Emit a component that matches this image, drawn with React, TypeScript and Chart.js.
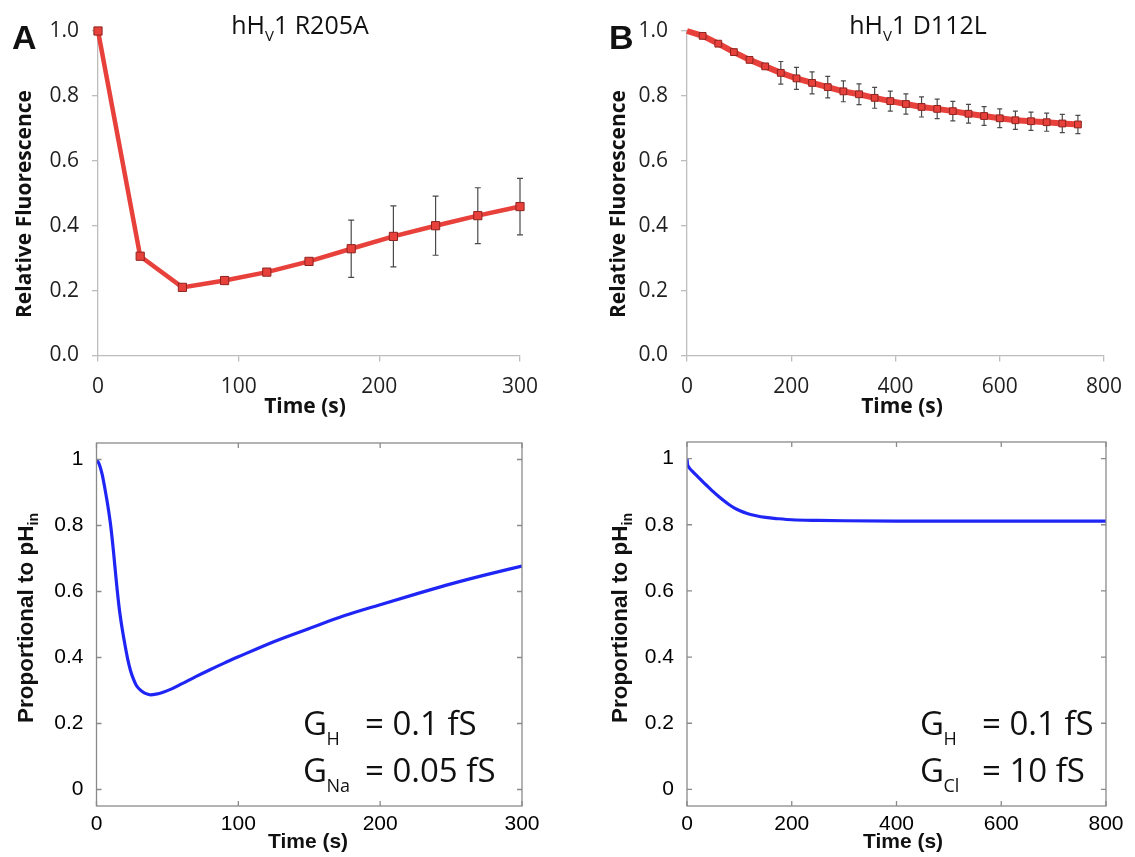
import React, { useEffect, useRef } from "react";
import { Chart, registerables } from "chart.js";
Chart.register(...registerables);

// ---------- Data ----------
// Panel A (top): hHV1 R205A measured relative fluorescence
const r205aTime = [0, 30, 60, 90, 120, 150, 180, 210, 240, 270, 300];
const r205aFluor = [1.0, 0.306, 0.21, 0.231, 0.257, 0.29, 0.329, 0.367, 0.4, 0.431, 0.459];
const r205aErr = [0, 0, 0, 0, 0, 0, 0.088, 0.094, 0.091, 0.086, 0.087];

// Panel B (top): hHV1 D112L measured relative fluorescence
const d112lTime = [0, 30, 60, 90, 120, 150, 180, 210, 240, 270, 300, 330, 360, 390, 420, 450, 480, 510, 540, 570, 600, 630, 660, 690, 720, 750];
const d112lFluor = [1.0, 0.985, 0.961, 0.935, 0.911, 0.891, 0.871, 0.854, 0.84, 0.827, 0.814, 0.805, 0.794, 0.784, 0.775, 0.766, 0.76, 0.753, 0.745, 0.738, 0.731, 0.725, 0.722, 0.719, 0.715, 0.712];
const d112lErr = [0, 0, 0, 0, 0, 0, 0.035, 0.034, 0.034, 0.033, 0.032, 0.032, 0.032, 0.031, 0.031, 0.031, 0.03, 0.03, 0.029, 0.029, 0.029, 0.028, 0.028, 0.028, 0.028, 0.028];

// Panel A (bottom): model, GH = 0.1 fS, GNa = 0.05 fS
const modelNaTime = [0, 2, 4, 6, 8, 10, 12, 14, 16, 18, 20, 22, 24, 26, 28, 31, 34, 38, 42, 47, 53, 60, 70, 80, 90, 100, 125, 150, 175, 200, 225, 250, 275, 300];
const modelNaPh = [1.0, 0.985, 0.955, 0.91, 0.86, 0.8, 0.72, 0.63, 0.55, 0.49, 0.44, 0.395, 0.36, 0.335, 0.316, 0.301, 0.292, 0.287, 0.289, 0.295, 0.305, 0.32, 0.342, 0.363, 0.383, 0.402, 0.448, 0.488, 0.527, 0.56, 0.592, 0.623, 0.651, 0.677];

// Panel B (bottom): model, GH = 0.1 fS, GCl = 10 fS
const modelClTime = [0, 1, 3, 10, 20, 30, 40, 50, 60, 70, 80, 90, 100, 115, 130, 150, 175, 200, 250, 300, 400, 500, 600, 700, 800];
const modelClPh = [1.0, 0.983, 0.975, 0.962, 0.946, 0.93, 0.915, 0.9, 0.886, 0.873, 0.861, 0.851, 0.843, 0.834, 0.828, 0.822, 0.818, 0.815, 0.813, 0.812, 0.811, 0.811, 0.811, 0.811, 0.811];

// Tick labels
const timeTicksA = [0, 100, 200, 300];
const timeTicksB = [0, 200, 400, 600, 800];
const fluorTicks = [0, 0.2, 0.4, 0.6, 0.8, 1.0];
const phTicks = [0, 0.2, 0.4, 0.6, 0.8, 1];

// ---------- Styling ----------
const FONT_TOP = "'Open Sans', 'Liberation Sans', sans-serif";
const FONT_MAT = "'Liberation Sans', Arial, sans-serif";
const AXIS_GRAY = "#bdbdbd";
const RED = "#e8413b";
const RED_EDGE = "#8e2420";
const BLUE = "#1f25f5";

type Run = { t: string; size: number; family: string; bold?: boolean; dy?: number };
type TextItem = { runs: Run[]; x: number; y: number; align?: "left" | "center"; rotate?: boolean; color?: string };

const fontStr = (r: Run) => `${r.bold ? "bold " : ""}${r.size}px ${r.family}`;

function textPlugin(items: TextItem[], ox: number, oy: number) {
  return {
    id: "panelText",
    afterDraw(chart: any) {
      const ctx = chart.ctx as CanvasRenderingContext2D;
      for (const item of items) {
        ctx.save();
        ctx.fillStyle = item.color || "#111";
        ctx.textBaseline = "alphabetic";
        ctx.textAlign = "left";
        ctx.translate(item.x - ox, item.y - oy);
        if (item.rotate) ctx.rotate(-Math.PI / 2);
        let w = 0;
        for (const r of item.runs) {
          ctx.font = fontStr(r);
          w += ctx.measureText(r.t).width;
        }
        let cx = item.align === "center" ? -w / 2 : 0;
        for (const r of item.runs) {
          ctx.font = fontStr(r);
          ctx.fillText(r.t, cx, r.dy || 0);
          cx += ctx.measureText(r.t).width;
        }
        ctx.restore();
      }
    },
  };
}

function errorBarPlugin(times: number[], values: number[], errs: number[], cap: number) {
  return {
    id: "errorBars",
    beforeDatasetsDraw(chart: any) {
      const ctx = chart.ctx as CanvasRenderingContext2D;
      const x = chart.scales.x;
      const y = chart.scales.y;
      ctx.save();
      ctx.strokeStyle = "#4a4a4a";
      ctx.lineWidth = 1.2;
      ctx.beginPath();
      times.forEach((t, i) => {
        const e = errs[i];
        if (!e) return;
        const px = x.getPixelForValue(t);
        const top = y.getPixelForValue(values[i] + e);
        const bot = y.getPixelForValue(values[i] - e);
        ctx.moveTo(px, top);
        ctx.lineTo(px, bot);
        ctx.moveTo(px - cap, top);
        ctx.lineTo(px + cap, top);
        ctx.moveTo(px - cap, bot);
        ctx.lineTo(px + cap, bot);
      });
      ctx.stroke();
      ctx.restore();
    },
  };
}

function boxPlugin(xTicks: number[], yTicks: number[]) {
  return {
    id: "matBox",
    afterDatasetsDraw(chart: any) {
      const ctx = chart.ctx as CanvasRenderingContext2D;
      const a = chart.chartArea;
      const x = chart.scales.x;
      const y = chart.scales.y;
      const len = 5;
      ctx.save();
      ctx.strokeStyle = "#8a8a8a";
      ctx.lineWidth = 1.3;
      ctx.strokeRect(a.left, a.top, a.right - a.left, a.bottom - a.top);
      ctx.beginPath();
      for (const v of xTicks) {
        const px = x.getPixelForValue(v);
        ctx.moveTo(px, a.bottom);
        ctx.lineTo(px, a.bottom - len);
        ctx.moveTo(px, a.top);
        ctx.lineTo(px, a.top + len);
      }
      for (const v of yTicks) {
        const py = y.getPixelForValue(v);
        ctx.moveTo(a.left, py);
        ctx.lineTo(a.left + len, py);
        ctx.moveTo(a.right, py);
        ctx.lineTo(a.right - len, py);
      }
      ctx.stroke();
      ctx.restore();
    },
  };
}

function topScales(xMax: number, xTicks: number[], yWidth: number, xHeight: number) {
  return {
    x: {
      type: "linear",
      min: 0,
      max: xMax,
      afterBuildTicks: (s: any) => {
        s.ticks = xTicks.map((v) => ({ value: v }));
      },
      afterFit: (s: any) => {
        s.height = xHeight;
      },
      grid: { display: true, drawOnChartArea: false, drawTicks: true, tickLength: 6, color: AXIS_GRAY, lineWidth: 1.3 },
      border: { display: true, color: AXIS_GRAY, width: 1.3 },
      ticks: { color: "#1f1f1f", font: { family: FONT_TOP, size: 21 }, padding: 13, maxRotation: 0, autoSkip: false },
    },
    y: {
      type: "linear",
      min: 0,
      max: 1,
      afterBuildTicks: (s: any) => {
        s.ticks = fluorTicks.map((v) => ({ value: v }));
      },
      afterFit: (s: any) => {
        s.width = yWidth;
      },
      grid: { display: true, drawOnChartArea: false, drawTicks: true, tickLength: 6, color: AXIS_GRAY, lineWidth: 1.3 },
      border: { display: true, color: AXIS_GRAY, width: 1.3 },
      ticks: {
        color: "#1f1f1f",
        font: { family: FONT_TOP, size: 21 },
        padding: 13,
        callback: (v: any) => Number(v).toFixed(1),
      },
    },
  };
}

function bottomScales(xMax: number, xTicks: number[], yWidth: number, xHeight: number) {
  return {
    x: {
      type: "linear",
      min: 0,
      max: xMax,
      afterBuildTicks: (s: any) => {
        s.ticks = xTicks.map((v) => ({ value: v }));
      },
      afterFit: (s: any) => {
        s.height = xHeight;
      },
      grid: { display: false },
      border: { display: false },
      ticks: { color: "#000", font: { family: FONT_MAT, size: 21 }, padding: -2, maxRotation: 0, autoSkip: false },
    },
    y: {
      type: "linear",
      min: -0.05,
      max: 1.05,
      afterBuildTicks: (s: any) => {
        s.ticks = phTicks.map((v) => ({ value: v }));
      },
      afterFit: (s: any) => {
        s.width = yWidth;
      },
      grid: { display: false },
      border: { display: false },
      ticks: {
        color: "#000",
        font: { family: FONT_MAT, size: 21 },
        padding: 5,
        callback: (v: any) => {
          const n = Number(v);
          return n === 0 || n === 1 ? String(n) : n.toFixed(1);
        },
      },
    },
  };
}

const baseOptions = (padding: any, scales: any) => ({
  responsive: false,
  maintainAspectRatio: false,
  animation: false,
  devicePixelRatio: 1,
  layout: { padding },
  plugins: { legend: { display: false }, tooltip: { enabled: false }, title: { display: false } },
  scales,
});

const title = (main1: string, sub: string, main2: string): Run[] => [
  { t: main1, size: 25, family: FONT_TOP },
  { t: sub, size: 15, family: FONT_TOP, dy: 7 },
  { t: main2, size: 25, family: FONT_TOP },
];

const panelLetter = (l: string): Run[] => [{ t: l, size: 34, family: FONT_MAT, bold: true }];
const boldTop = (t: string): Run[] => [{ t, size: 21, family: FONT_TOP, bold: true }];
const boldMat = (t: string): Run[] => [{ t, size: 21, family: FONT_MAT, bold: true }];
const big = (t: string): Run[] => [{ t, size: 33, family: FONT_TOP }];
const small = (t: string): Run[] => [{ t, size: 18, family: FONT_TOP }];
const phTitle = (): Run[] => [
  { t: "Proportional to pH", size: 22.5, family: FONT_MAT, bold: true },
  { t: "in", size: 14, family: FONT_MAT, bold: true, dy: 5 },
];

function configTL(ox: number, oy: number) {
  const items: TextItem[] = [
    { runs: panelLetter("A"), x: 12, y: 49 },
    { runs: title("hH", "V", "1 R205A"), x: 300, y: 34, align: "center" },
    { runs: boldTop("Relative Fluorescence"), x: 30.5, y: 204, align: "center", rotate: true },
    { runs: boldTop("Time (s)"), x: 305, y: 413, align: "center" },
  ];
  return {
    type: "line",
    data: {
      datasets: [
        {
          data: r205aTime.map((t, i) => ({ x: t, y: r205aFluor[i] })),
          borderColor: RED,
          borderWidth: 4.5,
          pointStyle: "rect",
          pointRadius: 5.8,
          pointBackgroundColor: RED,
          pointBorderColor: RED_EDGE,
          pointBorderWidth: 1,
          tension: 0,
          clip: false,
        },
      ],
    },
    options: baseOptions({ top: 31, right: 47, left: 0, bottom: 0 }, topScales(300, timeTicksA, 98, 69.5)),
    plugins: [errorBarPlugin(r205aTime, r205aFluor, r205aErr, 3), textPlugin(items, ox, oy)],
  };
}

function configTR(ox: number, oy: number) {
  const items: TextItem[] = [
    { runs: panelLetter("B"), x: 609, y: 49 },
    { runs: title("hH", "V", "1 D112L"), x: 918, y: 34, align: "center" },
    { runs: boldTop("Relative Fluorescence"), x: 625, y: 204, align: "center", rotate: true },
    { runs: boldTop("Time (s)"), x: 902, y: 413, align: "center" },
  ];
  return {
    type: "line",
    data: {
      datasets: [
        {
          data: d112lTime.map((t, i) => ({ x: t, y: d112lFluor[i] })),
          borderColor: RED,
          borderWidth: 6,
          pointStyle: "rect",
          pointRadius: d112lTime.map((t) => (t === 0 ? 0 : 4.8)),
          pointBackgroundColor: RED,
          pointBorderColor: RED_EDGE,
          pointBorderWidth: 1,
          tension: 0,
          clip: false,
        },
      ],
    },
    options: baseOptions({ top: 31, right: 29, left: 0, bottom: 0 }, topScales(800, timeTicksB, 120, 69.5)),
    plugins: [errorBarPlugin(d112lTime, d112lFluor, d112lErr, 2.5), textPlugin(items, ox, oy)],
  };
}

function configBL(ox: number, oy: number) {
  const items: TextItem[] = [
    { runs: phTitle(), x: 33, y: 618, align: "center", rotate: true },
    { runs: boldMat("Time (s)"), x: 308, y: 848, align: "center" },
    { runs: big("G"), x: 303, y: 735 },
    { runs: small("H"), x: 326.5, y: 745 },
    { runs: big("= 0.1 fS"), x: 365, y: 735 },
    { runs: big("G"), x: 303, y: 781.7 },
    { runs: small("Na"), x: 326.5, y: 791.7 },
    { runs: big("= 0.05 fS"), x: 365, y: 781.7 },
  ];
  return {
    type: "line",
    data: {
      datasets: [
        {
          data: modelNaTime.map((t, i) => ({ x: t, y: modelNaPh[i] })),
          borderColor: BLUE,
          borderWidth: 3.2,
          pointRadius: 0,
          cubicInterpolationMode: "monotone",
        },
      ],
    },
    options: baseOptions({ top: 23, right: 45, left: 0, bottom: 0 }, bottomScales(300, timeTicksA, 96.5, 51)),
    plugins: [boxPlugin(timeTicksA, phTicks), textPlugin(items, ox, oy)],
  };
}

function configBR(ox: number, oy: number) {
  const items: TextItem[] = [
    { runs: phTitle(), x: 627, y: 618, align: "center", rotate: true },
    { runs: boldMat("Time (s)"), x: 903, y: 848, align: "center" },
    { runs: big("G"), x: 920, y: 735 },
    { runs: small("H"), x: 943.5, y: 745 },
    { runs: big("= 0.1 fS"), x: 982, y: 735 },
    { runs: big("G"), x: 920, y: 781.7 },
    { runs: small("Cl"), x: 943.5, y: 791.7 },
    { runs: big("= 10 fS"), x: 982, y: 781.7 },
  ];
  return {
    type: "line",
    data: {
      datasets: [
        {
          data: modelClTime.map((t, i) => ({ x: t, y: modelClPh[i] })),
          borderColor: BLUE,
          borderWidth: 3.2,
          pointRadius: 0,
          cubicInterpolationMode: "monotone",
        },
      ],
    },
    options: baseOptions({ top: 22, right: 29, left: 0, bottom: 0 }, bottomScales(800, timeTicksB, 120, 51)),
    plugins: [boxPlugin(timeTicksB, phTicks), textPlugin(items, ox, oy)],
  };
}

function Panel({ left, top, width, height, make }: { left: number; top: number; width: number; height: number; make: (ox: number, oy: number) => any }) {
  const ref = useRef<HTMLCanvasElement | null>(null);
  useEffect(() => {
    if (!ref.current) return;
    const chart = new Chart(ref.current, make(left, top));
    return () => chart.destroy();
  }, []);
  return (
    <canvas
      ref={ref}
      width={width}
      height={height}
      style={{ position: "absolute", left, top, width, height, display: "block" }}
    />
  );
}

export default function App() {
  return (
    <div style={{ position: "absolute", left: 0, top: 0, width: 1135, height: 857, background: "#fff", overflow: "hidden" }}>
      <Panel left={0} top={0} width={567} height={425} make={configTL} />
      <Panel left={567} top={0} width={568} height={425} make={configTR} />
      <Panel left={0} top={420} width={567} height={437} make={configBL} />
      <Panel left={567} top={420} width={568} height={437} make={configBR} />
    </div>
  );
}
